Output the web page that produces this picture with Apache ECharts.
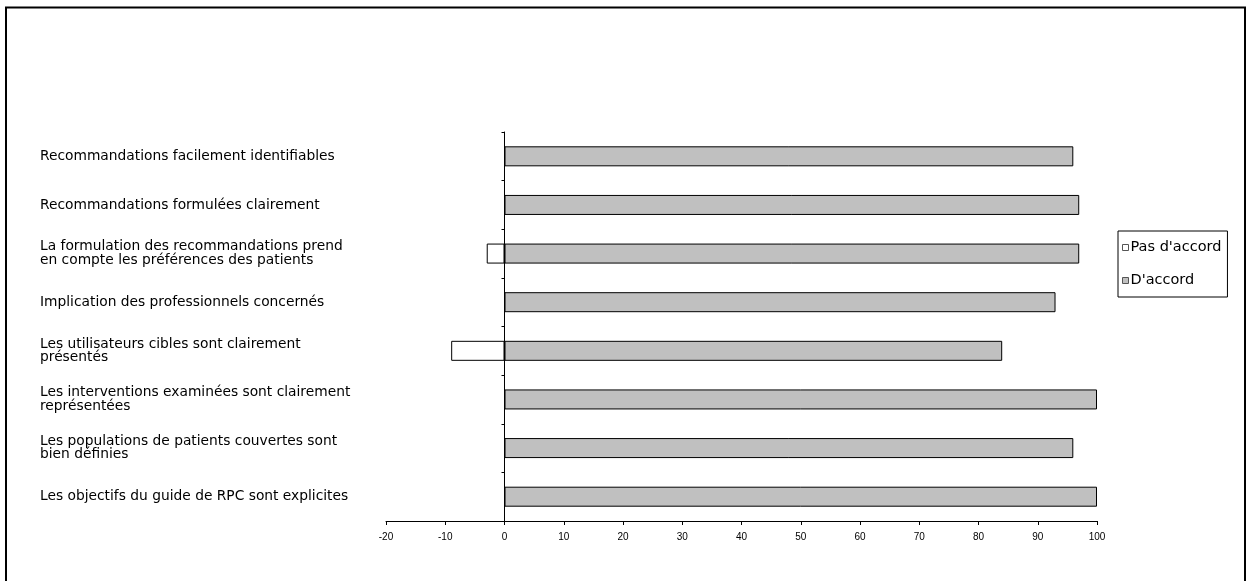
<!DOCTYPE html>
<html>
<head>
<meta charset="utf-8">
<script src="https://cdn.jsdelivr.net/npm/echarts@6/dist/echarts.min.js"></script>
<style>
html,body{margin:0;padding:0;background:#fff;}
#chart{width:1250px;height:581px;}
</style>
</head>
<body>
<div id="chart"></div>
<script>
const categories = [
  "Recommandations facilement identifiables",
  "Recommandations formulées clairement",
  "La formulation des recommandations prend\nen compte les préférences des patients",
  "Implication des professionnels concernés",
  "Les utilisateurs cibles sont clairement\nprésentés",
  "Les interventions examinées sont clairement\nreprésentées",
  "Les populations de patients couvertes sont\nbien définies",
  "Les objectifs du guide de RPC sont explicites"
];
const pasDaccord = [null, null, -3, null, -9, null, null, null];
const daccord = [96, 97, 97, 93, 84, 100, 96, 100];
const xMin = -20, xMax = 100, xInterval = 10;

const gridLeft = 386, gridRight = 153, gridTop = 132, gridBottom = 60;
const gridWidth = 1250 - gridLeft - gridRight;
const zeroLeft = gridLeft + gridWidth * (0 - xMin) / (xMax - xMin);

const chart = echarts.init(document.getElementById('chart'));
chart.setOption({
  animation: false,
  graphic: [{
    type: 'rect',
    shape: {x: 6, y: 7.5, width: 1239, height: 700},
    style: {fill: 'none', stroke: '#000', lineWidth: 2}
  }],
  legend: {
    orient: 'vertical',
    left: 1118, top: 231,
    padding: [9, 6, 9, 4],
    itemGap: 18,
    itemWidth: 6, itemHeight: 6,
    borderColor: '#000', borderWidth: 1,
    itemStyle: {borderWidth: 1, borderColor: '#555'},
    textStyle: {fontFamily: 'DejaVu Sans', fontSize: 14.5, color: '#000', padding: [0,0,0,-3]},
    data: [
      {name: "Pas d'accord", icon: 'rect'},
      {name: "D'accord", icon: 'rect'}
    ]
  },
  grid: [
    {left: gridLeft, right: gridRight, top: gridTop, bottom: gridBottom},
    {left: zeroLeft, right: gridRight, top: gridTop, bottom: gridBottom}
  ],
  xAxis: [{
    type: 'value', min: xMin, max: xMax, interval: xInterval, gridIndex: 0,
    splitLine: {show: false},
    axisLine: {show: true, onZero: false, lineStyle: {color: '#000'}},
    axisTick: {show: true, length: 4, lineStyle: {color: '#000'}},
    axisLabel: {fontFamily: 'Liberation Sans', fontSize: 10, color: '#000', margin: 11}
  }, {
    type: 'value', min: 0, max: 1, gridIndex: 1, show: false
  }],
  yAxis: [{
    type: 'category', data: categories, inverse: true, position: 'left', gridIndex: 0,
    axisLine: {show: false, onZero: false}, axisTick: {show: false},
    axisLabel: {
      fontFamily: 'DejaVu Sans', fontSize: 13.8, color: '#000',
      align: 'left', margin: 346, lineHeight: 13.5, padding: [6, 0, 0, 0]
    }
  }, {
    type: 'category', data: categories, inverse: true, position: 'left', gridIndex: 1,
    axisLine: {show: true, onZero: false, lineStyle: {color: '#000'}},
    axisTick: {show: true, length: 3, lineStyle: {color: '#000'}},
    axisLabel: {show: false}
  }],
  series: [{
    name: "Pas d'accord", type: 'bar', stack: 'tot', data: pasDaccord,
    xAxisIndex: 0, yAxisIndex: 0,
    barWidth: 20,
    itemStyle: {color: '#ffffff', borderColor: '#000', borderWidth: 1}
  }, {
    name: "D'accord", type: 'bar', stack: 'tot', data: daccord,
    xAxisIndex: 0, yAxisIndex: 0,
    barWidth: 20,
    itemStyle: {color: '#c0c0c0', borderColor: '#000', borderWidth: 1}
  }]
});
</script>
</body>
</html>
